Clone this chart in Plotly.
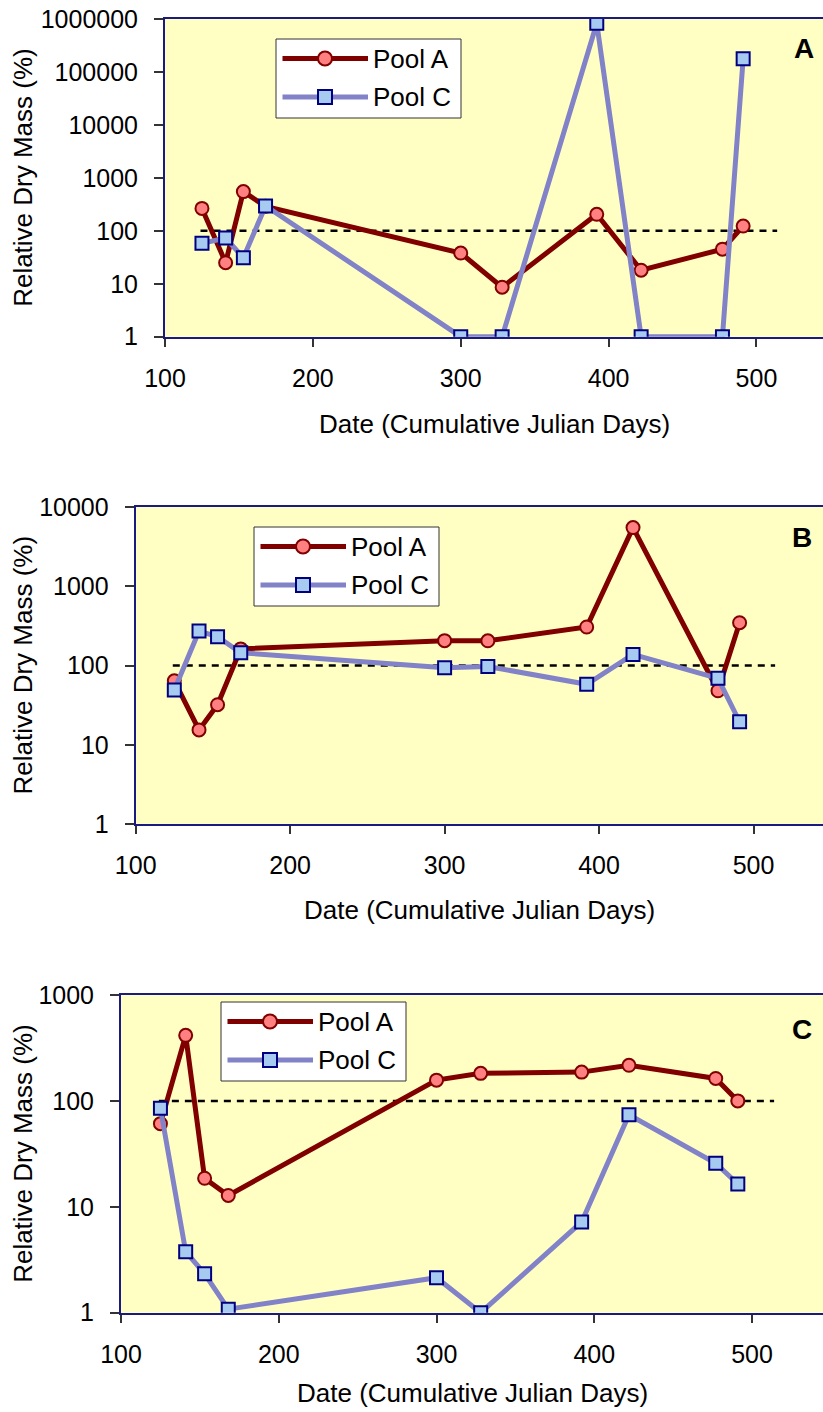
import plotly.graph_objects as go

# ---------------- data ----------------
dates = [125, 141, 153, 168, 300, 328, 392, 422, 477, 491]

panelA_poolA = [265, 25, 550, 290, 38, 8.6, 205, 18, 45, 123]
panelA_poolC = [58, 73, 31, 295, 1, 1, 830000, 1, 1, 178000]

panelB_poolA = [64, 15.4, 32, 162, 206, 205, 306, 5500, 48, 347]
panelB_poolC = [49, 272, 231, 145, 94, 97, 58, 138, 69, 19.5]

panelC_poolA = [61, 416, 18.6, 12.8, 157, 182, 187, 217, 163, 100]
panelC_poolC = [85, 3.77, 2.33, 1.08, 2.14, 1.0, 7.2, 74, 25.8, 16.4]

ref_x = [124, 514]
ref_y = [100, 100]

series_names = ["Pool A", "Pool C"]
panel_labels = ["A", "B", "C"]
x_ticks = [100, 200, 300, 400, 500]
y_ticks_A = [1, 10, 100, 1000, 10000, 100000, 1000000]
y_ticks_B = [1, 10, 100, 1000, 10000]
y_ticks_C = [1, 10, 100, 1000]
x_title = "Date (Cumulative Julian Days)"
y_title = "Relative Dry Mass (%)"

# ---------------- styling / layout ----------------
W, H = 823, 1412
FONT = "Arial, Liberation Sans, sans-serif"
RED_LINE = "#800000"
RED_FILL = "#ff8080"
BLUE_LINE = "#8282c8"
BLUE_FILL = "#a6caf0"
BLUE_EDGE = "#000080"
BG = "#ffffc4"
AXIS_COL = "#1a1a80"


def px_x(p):
    return p / W


def px_y(p):
    return 1 - p / H


# panel geometry in pixels: (left, top, bottom)
panels = [
    dict(left=165, top=19, bottom=336.7, yr=[0, 6], yt=y_ticks_A,
         a=panelA_poolA, c=panelA_poolC, label_pos=(804, 48),
         legend=(276, 39), xtitle_y=424),
    dict(left=135.7, top=507, bottom=824, yr=[0, 4], yt=y_ticks_B,
         a=panelB_poolA, c=panelB_poolC, label_pos=(802, 537),
         legend=(254, 527), xtitle_y=910),
    dict(left=121, top=995, bottom=1312.7, yr=[0, 3], yt=y_ticks_C,
         a=panelC_poolA, c=panelC_poolC, label_pos=(802, 1029),
         legend=(221, 1002), xtitle_y=1393),
]

fig = go.Figure()
layout = dict(
    width=W, height=H,
    margin=dict(l=0, r=0, t=0, b=0, pad=0, autoexpand=False),
    paper_bgcolor="white",
    showlegend=False,
    font=dict(family=FONT, size=25, color="black"),
)
shapes = []
annotations = []

for i, p in enumerate(panels):
    n = "" if i == 0 else str(i + 1)
    xa, ya = "x" + n, "y" + n

    fig.add_trace(go.Scatter(
        x=ref_x, y=ref_y, mode="lines", xaxis=xa, yaxis=ya,
        line=dict(color="black", width=2.5, dash="7px,6px"),
        hoverinfo="skip"))
    fig.add_trace(go.Scatter(
        x=dates, y=p["a"], mode="lines+markers", name=series_names[0],
        xaxis=xa, yaxis=ya,
        line=dict(color=RED_LINE, width=5),
        marker=dict(symbol="circle", size=13, color=RED_FILL,
                    line=dict(color=RED_LINE, width=2))))
    fig.add_trace(go.Scatter(
        x=dates, y=p["c"], mode="lines+markers", name=series_names[1],
        xaxis=xa, yaxis=ya,
        line=dict(color=BLUE_LINE, width=5),
        marker=dict(symbol="square", size=13, color=BLUE_FILL,
                    line=dict(color=BLUE_EDGE, width=2))))

    layout["xaxis" + n] = dict(
        domain=[px_x(p["left"]), 1], range=[100, 545], anchor=ya,
        automargin=False,
        tickvals=x_ticks, ticktext=[str(v) for v in x_ticks],
        ticks="outside", ticklen=8, tickcolor="#333333", tickwidth=1.5,
        showline=True, linecolor=AXIS_COL, linewidth=2, mirror=True,
        showgrid=False, zeroline=False, ticklabelstandoff=10,
        tickfont=dict(size=25, family=FONT))
    layout["yaxis" + n] = dict(
        domain=[px_y(p["bottom"]), px_y(p["top"])], type="log",
        range=p["yr"], anchor=xa, automargin=False,
        tickvals=p["yt"], ticktext=[str(v) for v in p["yt"]],
        ticks="outside", ticklen=9, tickcolor="#333333", tickwidth=1.5,
        showline=True, linecolor=AXIS_COL, linewidth=2,
        showgrid=False, zeroline=False, ticklabelstandoff=11,
        tickfont=dict(size=25, family=FONT))

    # plot background
    shapes.append(dict(type="rect", xref="paper", yref="paper", layer="below",
                       x0=px_x(p["left"]), x1=1, y0=px_y(p["bottom"]),
                       y1=px_y(p["top"]), fillcolor=BG, line=dict(width=0)))

    # panel letter
    annotations.append(dict(
        xref="paper", yref="paper", x=px_x(p["label_pos"][0]),
        y=px_y(p["label_pos"][1]), text="<b>%s</b>" % panel_labels[i],
        showarrow=False, xanchor="center", yanchor="middle",
        font=dict(size=28, family=FONT, color="black")))

    # axis titles
    annotations.append(dict(
        xref="paper", yref="paper", x=px_x(23),
        y=px_y((p["top"] + p["bottom"]) / 2), text=y_title, textangle=-90,
        showarrow=False, xanchor="center", yanchor="middle",
        font=dict(size=26, family=FONT, color="black")))
    annotations.append(dict(
        xref="paper", yref="paper", x=px_x((p["left"] + W) / 2),
        y=px_y(p["xtitle_y"]), text=x_title,
        showarrow=False, xanchor="center", yanchor="middle",
        font=dict(size=26, family=FONT, color="black")))

    # legend box (manual, to match the long sample lines)
    L, T = p["legend"]
    shapes.append(dict(type="rect", xref="paper", yref="paper",
                       x0=px_x(L), x1=px_x(L + 185), y0=px_y(T + 79), y1=px_y(T),
                       fillcolor="white", line=dict(color="#333333", width=1)))
    rows = [(T + 19.5, RED_LINE, 5, "circle", RED_FILL, RED_LINE, series_names[0]),
            (T + 58, BLUE_LINE, 5, "rect", BLUE_FILL, BLUE_EDGE, series_names[1])]
    for (ry, lc, lw, mk, mf, me, name) in rows:
        shapes.append(dict(type="line", xref="paper", yref="paper",
                           x0=px_x(L + 6.5), x1=px_x(L + 92),
                           y0=px_y(ry), y1=px_y(ry),
                           line=dict(color=lc, width=lw)))
        cx = L + 49
        r = 7
        shapes.append(dict(type=mk, xref="paper", yref="paper",
                           x0=px_x(cx - r), x1=px_x(cx + r),
                           y0=px_y(ry + r), y1=px_y(ry - r),
                           fillcolor=mf, line=dict(color=me, width=2)))
        annotations.append(dict(
            xref="paper", yref="paper", x=px_x(L + 95), y=px_y(ry),
            text=name, showarrow=False, xanchor="left", yanchor="middle",
            font=dict(size=26, family=FONT, color="black")))

layout["shapes"] = shapes
layout["annotations"] = annotations
layout["plot_bgcolor"] = BG
fig.update_layout(**layout)

fig.write_html("out.html")
